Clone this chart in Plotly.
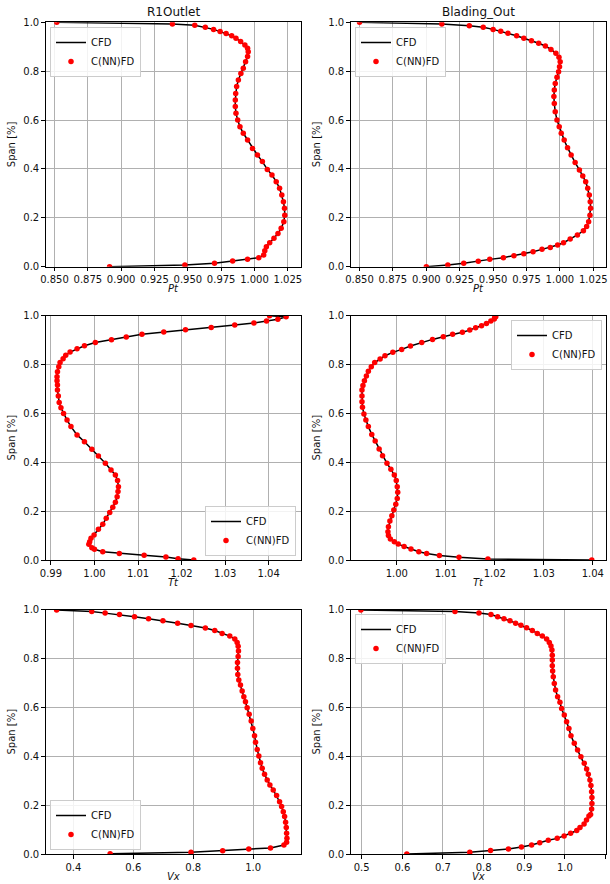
import plotly.graph_objects as go

# ---------------- data ----------------
span_pt_r1 = [1.000, 0.993, 0.988, 0.980, 0.971, 0.962, 0.954, 0.945, 0.935, 0.921, 0.907, 0.894, 0.880,
              0.860, 0.839, 0.812, 0.791, 0.764, 0.737, 0.709, 0.682, 0.655, 0.628, 0.600, 0.573, 0.546,
              0.518, 0.484, 0.457, 0.430, 0.398, 0.375, 0.348, 0.321, 0.293, 0.266, 0.239, 0.211, 0.184,
              0.157, 0.136, 0.116, 0.098, 0.082, 0.065, 0.048, 0.037, 0.030, 0.023, 0.014, 0.007, 0.000]
pt_r1 = [0.8517, 0.9384, 0.9552, 0.9631, 0.9693, 0.9742, 0.9787, 0.9829, 0.9861, 0.9896, 0.9928, 0.9948,
         0.9953, 0.9948, 0.9933, 0.9916, 0.9898, 0.9879, 0.9866, 0.9859, 0.9856, 0.9856, 0.9861, 0.9874,
         0.9891, 0.9916, 0.9948, 0.9985, 1.0022, 1.0059, 1.0096, 1.0131, 1.0163, 1.0188, 1.0205, 1.0217,
         1.0225, 1.0227, 1.0220, 1.0200, 1.0176, 1.0146, 1.0114, 1.0089, 1.0077, 1.0069, 1.0032, 0.9948,
         0.9836, 0.9700, 0.9478, 0.8913]

span_pt_bo = [1.000, 0.993, 0.986, 0.980, 0.971, 0.963, 0.955, 0.945, 0.935, 0.925, 0.914, 0.903, 0.889,
              0.873, 0.857, 0.839, 0.818, 0.798, 0.775, 0.750, 0.723, 0.696, 0.668, 0.634, 0.600, 0.573,
              0.546, 0.518, 0.487, 0.457, 0.426, 0.396, 0.371, 0.348, 0.321, 0.293, 0.266, 0.239, 0.211,
              0.184, 0.164, 0.147, 0.130, 0.113, 0.098, 0.089, 0.079, 0.071, 0.061, 0.053, 0.045, 0.037,
              0.030, 0.022, 0.014, 0.007, 0.000]
pt_bo = [0.8500, 0.9116, 0.9322, 0.9426, 0.9500, 0.9557, 0.9611, 0.9676, 0.9730, 0.9787, 0.9841, 0.9891,
         0.9933, 0.9970, 0.9993, 1.0002, 0.9997, 0.9990, 0.9978, 0.9965, 0.9958, 0.9955, 0.9958, 0.9965,
         0.9978, 0.9995, 1.0010, 1.0032, 1.0057, 1.0084, 1.0114, 1.0146, 1.0171, 1.0193, 1.0208, 1.0220,
         1.0227, 1.0230, 1.0225, 1.0215, 1.0200, 1.0176, 1.0131, 1.0077, 1.0027, 0.9983, 0.9928, 0.9866,
         0.9799, 0.9730, 0.9656, 0.9577, 0.9475, 0.9389, 0.9280, 0.9161, 0.9000]

span_tt_r1 = [1.000, 0.996, 0.985, 0.978, 0.970, 0.962, 0.952, 0.943, 0.933, 0.924, 0.913, 0.902, 0.890,
              0.877, 0.865, 0.851, 0.838, 0.824, 0.808, 0.791, 0.771, 0.750, 0.734, 0.716, 0.696, 0.671,
              0.645, 0.623, 0.600, 0.573, 0.546, 0.512, 0.484, 0.453, 0.426, 0.396, 0.368, 0.348, 0.325,
              0.300, 0.280, 0.259, 0.236, 0.216, 0.194, 0.171, 0.146, 0.126, 0.102, 0.089, 0.075, 0.064,
              0.050, 0.044, 0.034, 0.027, 0.019, 0.012, 0.005, 0.000]
tt_r1 = [1.0402, 1.0440, 1.0421, 1.0395, 1.0366, 1.0322, 1.0268, 1.0209, 1.0159, 1.0109, 1.0073, 1.0039,
         1.0002, 0.9977, 0.9960, 0.9944, 0.9934, 0.9928, 0.9921, 0.9918, 0.9915, 0.9914, 0.9914, 0.9915,
         0.9915, 0.9917, 0.9919, 0.9923, 0.9929, 0.9937, 0.9946, 0.9960, 0.9977, 0.9994, 1.0009, 1.0025,
         1.0038, 1.0048, 1.0053, 1.0055, 1.0054, 1.0052, 1.0048, 1.0042, 1.0035, 1.0027, 1.0019, 1.0009,
         0.9999, 0.9992, 0.9989, 0.9987, 0.9994, 1.0000, 1.0019, 1.0057, 1.0114, 1.0164, 1.0192, 1.0228]

span_tt_bo = [1.000, 0.996, 0.986, 0.978, 0.968, 0.959, 0.951, 0.941, 0.932, 0.924, 0.914, 0.903, 0.890,
              0.876, 0.862, 0.850, 0.836, 0.823, 0.808, 0.791, 0.773, 0.753, 0.734, 0.714, 0.696, 0.671,
              0.648, 0.625, 0.598, 0.573, 0.546, 0.514, 0.487, 0.454, 0.427, 0.396, 0.371, 0.348, 0.325,
              0.300, 0.277, 0.252, 0.228, 0.205, 0.181, 0.160, 0.136, 0.116, 0.100, 0.086, 0.075, 0.065,
              0.055, 0.045, 0.034, 0.027, 0.018, 0.011, 0.004, 0.000]
tt_bo = [1.0200, 1.0202, 1.0199, 1.0192, 1.0183, 1.0173, 1.0161, 1.0149, 1.0134, 1.0114, 1.0095, 1.0073,
         1.0051, 1.0028, 1.0010, 0.9992, 0.9976, 0.9966, 0.9955, 0.9948, 0.9942, 0.9938, 0.9934, 0.9931,
         0.9929, 0.9929, 0.9929, 0.9930, 0.9933, 0.9937, 0.9942, 0.9949, 0.9956, 0.9964, 0.9971, 0.9980,
         0.9988, 0.9995, 0.9999, 1.0001, 1.0002, 1.0001, 0.9998, 0.9994, 0.9990, 0.9986, 0.9983, 0.9982,
         0.9983, 0.9987, 0.9995, 1.0003, 1.0015, 1.0029, 1.0045, 1.0061, 1.0087, 1.0127, 1.0186, 1.0398]

span_vx_r1 = [0.999, 0.993, 0.986, 0.980, 0.971, 0.963, 0.955, 0.945, 0.935, 0.925, 0.915, 0.903, 0.892,
              0.880, 0.866, 0.850, 0.831, 0.808, 0.784, 0.760, 0.735, 0.712, 0.692, 0.667, 0.644, 0.623,
              0.599, 0.572, 0.544, 0.514, 0.484, 0.457, 0.428, 0.401, 0.374, 0.351, 0.326, 0.303, 0.282,
              0.262, 0.239, 0.214, 0.194, 0.173, 0.153, 0.130, 0.108, 0.085, 0.064, 0.048, 0.037, 0.025,
              0.020, 0.0135, 0.007, 0.001]
vx_r1 = [0.3442, 0.4613, 0.5060, 0.5539, 0.6041, 0.6510, 0.6989, 0.7480, 0.7926, 0.8406, 0.8718, 0.8964,
         0.9220, 0.9388, 0.9466, 0.9499, 0.9510, 0.9499, 0.9477, 0.9477, 0.9488, 0.9521, 0.9577, 0.9633,
         0.9689, 0.9744, 0.9800, 0.9867, 0.9934, 0.9990, 1.0046, 1.0079, 1.0135, 1.0190, 1.0246, 1.0302,
         1.0380, 1.0469, 1.0559, 1.0670, 1.0782, 1.0882, 1.0949, 1.1005, 1.1049, 1.1083, 1.1105, 1.1116,
         1.1127, 1.1116, 1.1027, 1.0579, 0.9853, 0.8983, 0.7926, 0.5227]

span_vx_bo = [0.999, 0.993, 0.986, 0.980, 0.971, 0.963, 0.955, 0.945, 0.936, 0.926, 0.915, 0.903, 0.892,
              0.880, 0.866, 0.851, 0.835, 0.814, 0.794, 0.771, 0.749, 0.726, 0.698, 0.671, 0.644, 0.621,
              0.596, 0.569, 0.541, 0.514, 0.484, 0.453, 0.426, 0.398, 0.371, 0.348, 0.326, 0.303, 0.280,
              0.255, 0.231, 0.207, 0.184, 0.162, 0.156, 0.139, 0.123, 0.108, 0.096, 0.085, 0.074, 0.064,
              0.056, 0.046, 0.037, 0.029, 0.020, 0.014, 0.007, 0.000]
vx_bo = [0.4980, 0.7295, 0.7885, 0.8180, 0.8344, 0.8500, 0.8648, 0.8787, 0.8918, 0.9057, 0.9197, 0.9320,
         0.9443, 0.9549, 0.9615, 0.9656, 0.9680, 0.9689, 0.9689, 0.9689, 0.9697, 0.9713, 0.9738, 0.9770,
         0.9820, 0.9877, 0.9918, 0.9984, 1.0041, 1.0098, 1.0148, 1.0230, 1.0311, 1.0393, 1.0475, 1.0533,
         1.0574, 1.0615, 1.0639, 1.0656, 1.0664, 1.0664, 1.0656, 1.0631, 1.0590, 1.0530, 1.0470, 1.0370,
         1.0290, 1.0140, 0.9980, 0.9810, 0.9590, 0.9380, 0.9180, 0.8930, 0.8610, 0.8170, 0.7660, 0.6110]

titles = ["R1Outlet", "Blading_Out"]
x_labels = ["Pt", "Tt", "Vx"]
y_label = "Span [%]"
y_ticks = [0.0, 0.2, 0.4, 0.6, 0.8, 1.0]
legend_names = ["CFD", "C(NN)FD"]

panels = [
    (pt_r1, span_pt_r1), (pt_bo, span_pt_bo),
    (tt_r1, span_tt_r1), (tt_bo, span_tt_bo),
    (vx_r1, span_vx_r1), (vx_bo, span_vx_bo),
]

# ---------------- layout constants ----------------
W, H = 610, 884
FONT = "DejaVu Sans"
col_px = [(45.7, 300.5), (350.7, 606.0)]
row_px = [(22.3, 266.7), (315.7, 560.0), (609.7, 854.0)]
x_ranges = [[0.8434, 1.0345], [0.8434, 1.0345],
            [0.9888, 1.0473], [0.9906, 1.0427],
            [0.3077, 1.1580], [0.4730, 1.1010]]
x_dticks = [0.025, 0.025, 0.01, 0.01, 0.2, 0.1]
x_fmts = [".3f", ".3f", ".2f", ".2f", ".1f", ".1f"]
# legend box corner (px) and anchor
legend_pos = [(50, 27, "left", "top"), (355, 27, "left", "top"),
              (296, 556, "right", "bottom"), (602, 320, "right", "top"),
              (50, 850, "left", "bottom"), (355, 614, "left", "top")]

fig = go.Figure()
layout = dict(width=W, height=H, margin=dict(l=0, r=0, t=0, b=0, autoexpand=False),
              paper_bgcolor="white", plot_bgcolor="white",
              font=dict(family=FONT, size=10, color="#111111"),
              showlegend=True)
annotations = []

for i, (xv, yv) in enumerate(panels):
    r, c = divmod(i, 2)
    n = i + 1
    sfx = "" if n == 1 else str(n)
    lg = "legend" if n == 1 else f"legend{n}"
    fig.add_trace(go.Scatter(x=xv, y=yv, mode="lines", name=legend_names[0],
                             line=dict(color="black", width=1.5),
                             xaxis="x" + sfx, yaxis="y" + sfx, legend=lg))
    fig.add_trace(go.Scatter(x=xv, y=yv, mode="markers", name=legend_names[1],
                             marker=dict(color="red", size=5.5),
                             xaxis="x" + sfx, yaxis="y" + sfx, legend=lg))
    x0, x1 = col_px[c]
    y0, y1 = row_px[r]
    axis_common = dict(showline=True, mirror=True, linecolor="black", linewidth=1,
                       showgrid=True, gridcolor="#b0b0b0", gridwidth=0.8,
                       ticks="outside", ticklen=3.5, tickwidth=0.8, tickcolor="black",
                       zeroline=False, automargin=False,
                       tickfont=dict(family=FONT, size=10, color="#111111"))
    layout["xaxis" + sfx] = dict(axis_common, domain=[x0 / W, x1 / W], range=x_ranges[i],
                                 anchor="y" + sfx, tick0=0, dtick=x_dticks[i],
                                 tickformat=x_fmts[i])
    layout["yaxis" + sfx] = dict(axis_common, domain=[1 - y1 / H, 1 - y0 / H], range=[0, 1],
                                 anchor="x" + sfx, tickvals=y_ticks, tickformat=".1f")
    lx, ly, xa, ya = legend_pos[i]
    layout[lg] = dict(x=lx / W, y=1 - ly / H, xanchor=xa, yanchor=ya,
                      bgcolor="rgba(255,255,255,0.85)", bordercolor="#cccccc", borderwidth=1,
                      font=dict(family=FONT, size=10, color="#111111"),
                      tracegroupgap=0, itemwidth=30)
    # x label
    annotations.append(dict(text=f"<i>{x_labels[r]}</i>", x=(x0 + x1) / 2 / W, y=1 - (y1 + 22) / H,
                            xref="paper", yref="paper", xanchor="center", yanchor="middle",
                            showarrow=False, font=dict(family=FONT, size=10, color="#111111")))
    # y label
    annotations.append(dict(text=y_label, x=(x0 - 34) / W, y=1 - (y0 + y1) / 2 / H,
                            xref="paper", yref="paper", xanchor="center", yanchor="middle",
                            textangle=-90, showarrow=False,
                            font=dict(family=FONT, size=10, color="#111111")))
    if r == 0:
        annotations.append(dict(text=titles[c], x=(x0 + x1) / 2 / W, y=1 - 12 / H,
                                xref="paper", yref="paper", xanchor="center", yanchor="middle",
                                showarrow=False, font=dict(family=FONT, size=12, color="#111111")))

layout["annotations"] = annotations
fig.update_layout(**layout)
fig.write_html("out.html", config={"displayModeBar": False},
               post_script="document.body.style.margin='0';document.body.style.overflow='hidden';")
